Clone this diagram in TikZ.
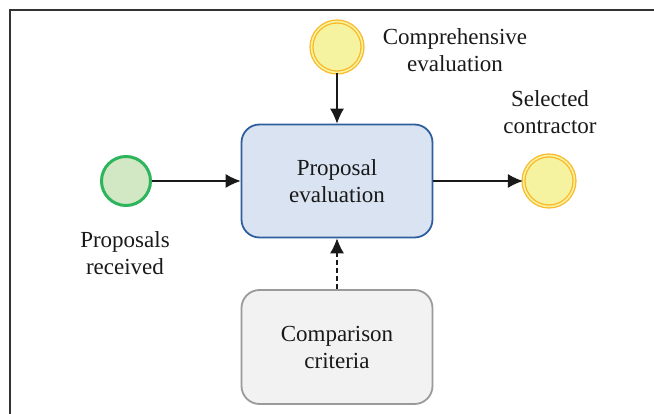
\documentclass[tikz,border=0pt]{standalone}
\usepackage{fontspec}
\setmainfont{Liberation Serif}
\usetikzlibrary{arrows.meta}
\definecolor{startline}{HTML}{2DB55D}
\definecolor{startfill}{HTML}{D2E8C5}
\definecolor{endline}{HTML}{FBB829}
\definecolor{endfill}{HTML}{F6F3A0}
\definecolor{taskline}{HTML}{2E5E9E}
\definecolor{taskfill}{HTML}{DAE3F1}
\definecolor{dataline}{HTML}{9A9A9A}
\definecolor{datafill}{HTML}{F2F2F2}

\begin{document}
\begin{tikzpicture}[x=1pt, y=-1pt,
    font=\fontsize{23}{27}\selectfont, text=black!90,
    start/.style = {draw=startline, fill=startfill, circle, line width=3pt, minimum size=49pt, inner sep=0pt},
    finish/.style = {draw=endline, double=endfill, fill=endfill, double distance=1.6pt, line width=1.3pt, circle, minimum size=51pt, inner sep=0pt},
    task/.style = {draw=taskline, fill=taskfill, rounded corners=18pt, line width=1.8pt, minimum width=191pt, minimum height=113pt, align=center},
    criteria/.style = {draw=dataline, fill=datafill, rounded corners=18pt, line width=1.8pt, minimum width=191pt, minimum height=114pt, align=center},
    lbl/.style = {align=center, inner sep=0pt},
    flow/.style = {-{Latex[length=15pt,width=14pt]}, line width=1.1pt, black!90}]
    \useasboundingbox (0,0) rectangle (654,414);
    \draw[line width=2.2pt, black!80] (10,414) -- (10,10) -- (654,10);

    \node[task] (eval) at (337,181) {Proposal\\evaluation};
    \node[criteria] (crit) at (337,347) {Comparison\\criteria};
    \node[start] (recv) at (126,181) {};
    \node[finish] (comp) at (337,47) {};
    \node[finish] (sel) at (549,181) {};

    \node[lbl] (recvlbl) at (125,253) {Proposals\\received};
    \node[lbl] (complbl) at (455,50) {Comprehensive\\evaluation};
    \node[lbl] (sellbl) at (550,112) {Selected\\contractor};

    \draw[flow] (recv) -- (eval);
    \draw[flow] (comp) -- (eval);
    \draw[flow] (eval) -- (sel);
    \draw[flow, dash pattern=on 5pt off 3pt] (crit) -- (eval);
\end{tikzpicture}
\end{document}
